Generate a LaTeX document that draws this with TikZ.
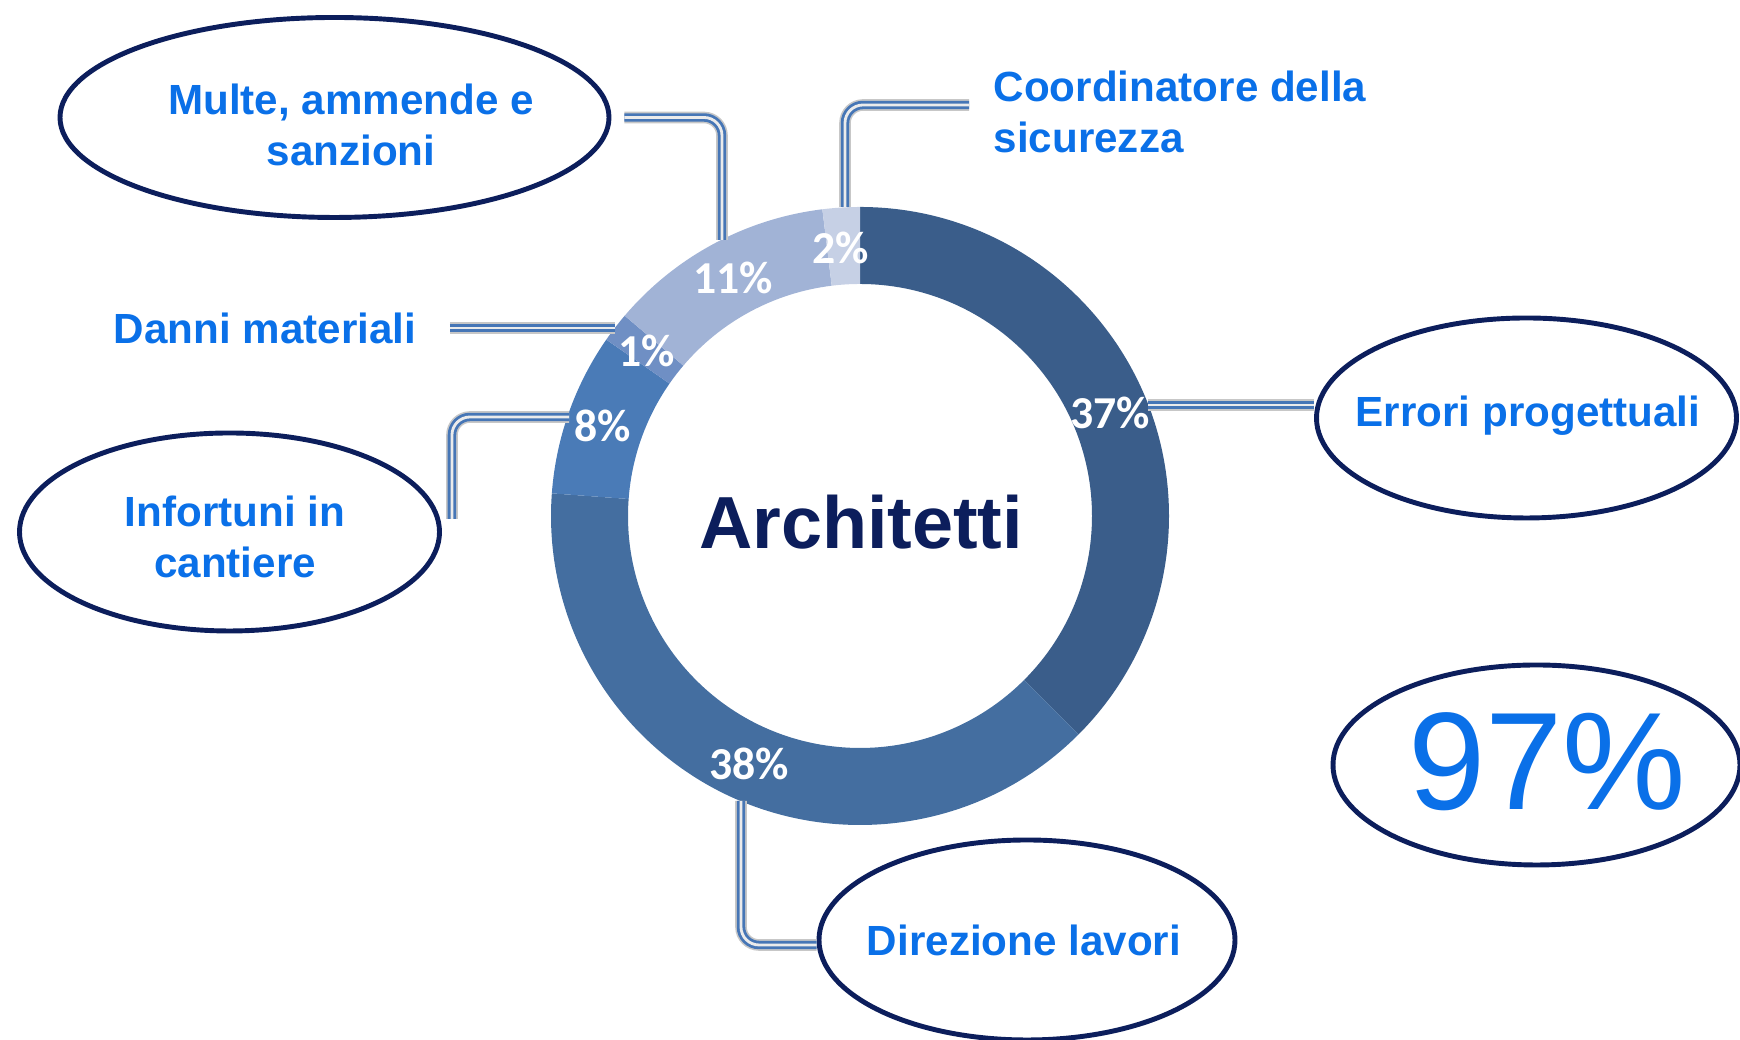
\documentclass[tikz,border=0pt]{standalone}
\usepackage{fontspec}
\setmainfont{Liberation Sans}
\newfontfamily\calib{Carlito}
\usetikzlibrary{shapes.geometric}

\definecolor{navy}{RGB}{12,30,92}
\definecolor{lblue}{RGB}{10,112,232}
\definecolor{linkblue}{RGB}{70,118,182}
\definecolor{c37}{RGB}{58,93,138}
\definecolor{c38}{RGB}{68,110,160}
\definecolor{c8}{RGB}{74,123,183}
\definecolor{c1}{RGB}{111,143,196}
\definecolor{c11}{RGB}{161,179,214}
\definecolor{c2}{RGB}{198,208,229}

\begin{document}
\begin{tikzpicture}[
  bubble/.style={ellipse, draw=navy, line width=1.4pt, fill=white, inner sep=0pt},
  lbl/.style={text=lblue, font=\fontsize{12}{14.5}\selectfont\bfseries, inner sep=0pt, align=center},
  pct/.style={text=white, font=\calib\fontsize{13}{15}\selectfont\bfseries, inner sep=0pt},
  link/.style={draw=linkblue, line width=2.4pt, rounded corners=0.18cm,
    preaction={draw=black!22, line width=3.3pt},
    postaction={draw=black!8, line width=0.8pt}}
]
\useasboundingbox (0,0) rectangle (17.4,10.4);
\clip (0,0) rectangle (17.4,10.4);

% Ring
\begin{scope}[shift={(8.60,5.24)}]
\fill[c37] (90:3.09) arc[start angle=90, end angle=-45, radius=3.09] -- (-45:2.32) arc[start angle=-45, end angle=90, radius=2.32] -- cycle;
\fill[c38] (-45:3.09) arc[start angle=-45, end angle=-184.2, radius=3.09] -- (-184.2:2.32) arc[start angle=-184.2, end angle=-45, radius=2.32] -- cycle;
\fill[c8] (-184.2:3.09) arc[start angle=-184.2, end angle=-214.8, radius=3.09] -- (-214.8:2.32) arc[start angle=-214.8, end angle=-184.2, radius=2.32] -- cycle;
\fill[c1] (-214.8:3.09) arc[start angle=-214.8, end angle=-220.4, radius=3.09] -- (-220.4:2.32) arc[start angle=-220.4, end angle=-214.8, radius=2.32] -- cycle;
\fill[c11] (-220.4:3.09) arc[start angle=-220.4, end angle=-263, radius=3.09] -- (-263:2.32) arc[start angle=-263, end angle=-220.4, radius=2.32] -- cycle;
\fill[c2] (-263:3.09) arc[start angle=-263, end angle=-270, radius=3.09] -- (-270:2.32) arc[start angle=-270, end angle=-263, radius=2.32] -- cycle;
\end{scope}

% Percentages
\node[pct] (v37) at (11.10,6.27) {37\%};
\node[pct] (v38) at (7.49,2.76) {38\%};
\node[pct] (v8) at (6.03,6.14) {8\%};
\node[pct] (v1) at (6.47,6.89) {1\%};
\node[pct] (v11) at (7.33,7.62) {11\%};
\node[pct] (v2) at (8.41,7.92) {2\%};

\node[text=navy, font=\fontsize{21}{24}\selectfont\bfseries, inner sep=0pt] (title) at (8.61,5.18) {Architetti};

% Ring ends of the connectors
\coordinate (pM) at (7.22,8.00);
\coordinate (pC) at (8.45,8.33);
\coordinate (pD) at (6.15,7.12);
\coordinate (p8) at (5.69,6.23);
\coordinate (p37) at (11.48,6.35);
\coordinate (p38) at (7.41,2.39);

% Bubbles
\node[bubble, minimum width=5.49cm, minimum height=2.0cm] (multe) at (3.345,9.225) {};
\node[lbl] (multeTxt) at (3.51,9.155) {Multe, ammende e\\sanzioni};
\node[bubble, minimum width=4.2cm, minimum height=1.98cm] (inf) at (2.295,5.08) {};
\node[lbl] (infTxt) at (2.35,5.03) {Infortuni in\\cantiere};
\node[bubble, minimum width=4.2cm, minimum height=2.0cm] (err) at (15.265,6.22) {};
\node[lbl] (errTxt) at (15.28,6.24) {Errori progettuali};
\node[bubble, minimum width=4.16cm, minimum height=2.0cm] (dir) at (10.27,1.00) {};
\node[lbl] (dirTxt) at (10.24,1.00) {Direzione lavori};
\node[bubble, minimum width=4.07cm, minimum height=2.0cm] (big) at (15.365,2.75) {};
\node[text=lblue, font=\fontsize{39.5}{44}\selectfont, inner sep=0pt] (bigTxt) at (15.47,2.78) {97\%};

\node[lbl, anchor=west, align=left] (coordTxt) at (9.93,9.28) {Coordinatore della\\sicurezza};
\node[lbl] (danni) at (2.65,7.12) {Danni materiali};

% Connectors
\draw[link] (pM) |- ([xshift=0.13cm]multe.east);
\draw[link] (pC) |- ([xshift=-0.24cm, yshift=0.07cm]coordTxt.west);
\draw[link] ([xshift=0.33cm]danni.east) -- (pD);
\draw[link] ([xshift=0.1cm, yshift=0.13cm]inf.east) |- (p8);
\draw[link] (p37) -- (p37 -| err.west);
\draw[link] (p38) |- ([yshift=-0.05cm]dir.west);

\end{tikzpicture}
\end{document}
